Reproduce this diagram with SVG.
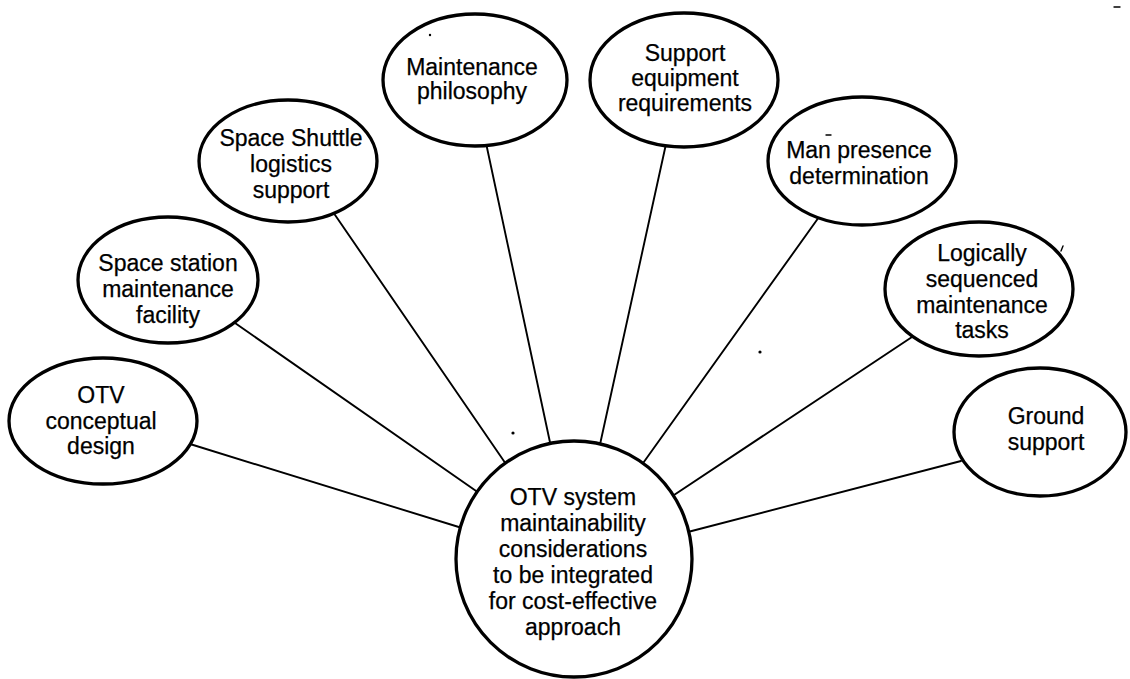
<svg xmlns="http://www.w3.org/2000/svg" width="1130" height="679" viewBox="0 0 1130 679">
  <style>
    .bubble { fill: #ffffff; stroke: #000000; stroke-width: 3.3; }
    .link { stroke: #000000; stroke-width: 1.9; fill: none; stroke-linecap: round; }
    .label { font-family: "Liberation Sans", Arial, Helvetica, sans-serif; font-size: 23px; fill: #000000; text-anchor: middle; stroke: #000000; stroke-width: 0.25; }
    .speck { fill: #000000; }
    .mark { stroke: #000000; stroke-width: 1.4; fill: none; stroke-linecap: round; }
  </style>
  <rect x="0" y="0" width="1130" height="679" fill="#ffffff"/>

  <!-- spokes from each topic to the central hub -->
  <g id="connectors">
    <line class="link" x1="190" y1="444" x2="462" y2="528"/>
    <line class="link" x1="235" y1="323" x2="479" y2="493"/>
    <line class="link" x1="333" y1="212" x2="508" y2="467"/>
    <line class="link" x1="486" y1="143" x2="551" y2="447"/>
    <line class="link" x1="666" y1="144" x2="599" y2="449"/>
    <line class="link" x1="819" y1="217" x2="641" y2="466"/>
    <line class="link" x1="915" y1="335" x2="668" y2="499"/>
    <line class="link" x1="961" y1="461" x2="684" y2="533"/>
  </g>

  <g id="otv-conceptual-design">
    <ellipse class="bubble" cx="103" cy="421" rx="94" ry="63"/>
    <text class="label" x="101" y="403">OTV</text>
    <text class="label" x="101" y="429">conceptual</text>
    <text class="label" x="101" y="454">design</text>
  </g>

  <g id="space-station-maintenance-facility">
    <ellipse class="bubble" cx="168" cy="280" rx="90" ry="63"/>
    <text class="label" x="168" y="271">Space station</text>
    <text class="label" x="168" y="297">maintenance</text>
    <text class="label" x="168" y="323">facility</text>
  </g>

  <g id="space-shuttle-logistics-support">
    <ellipse class="bubble" cx="288" cy="161" rx="89" ry="61"/>
    <text class="label" x="291" y="146">Space Shuttle</text>
    <text class="label" x="291" y="172">logistics</text>
    <text class="label" x="291" y="198">support</text>
  </g>

  <g id="maintenance-philosophy">
    <ellipse class="bubble" cx="475" cy="80" rx="92" ry="66"/>
    <text class="label" x="472" y="75">Maintenance</text>
    <text class="label" x="472" y="99">philosophy</text>
  </g>

  <g id="support-equipment-requirements">
    <ellipse class="bubble" cx="684" cy="80" rx="94" ry="67"/>
    <text class="label" x="685" y="61">Support</text>
    <text class="label" x="685" y="86">equipment</text>
    <text class="label" x="685" y="111">requirements</text>
  </g>

  <g id="man-presence-determination">
    <ellipse class="bubble" cx="862" cy="161" rx="94" ry="64"/>
    <text class="label" x="859" y="158">Man presence</text>
    <text class="label" x="859" y="184">determination</text>
  </g>

  <g id="logically-sequenced-maintenance-tasks">
    <ellipse class="bubble" cx="979" cy="289" rx="94" ry="67"/>
    <text class="label" x="982" y="261">Logically</text>
    <text class="label" x="982" y="287">sequenced</text>
    <text class="label" x="982" y="313">maintenance</text>
    <text class="label" x="982" y="338">tasks</text>
  </g>

  <g id="ground-support">
    <ellipse class="bubble" cx="1040" cy="432" rx="86" ry="64"/>
    <text class="label" x="1046" y="424">Ground</text>
    <text class="label" x="1046" y="450">support</text>
  </g>

  <g id="otv-system-maintainability">
    <circle class="bubble" cx="574" cy="559" r="118"/>
    <text class="label" x="573" y="505">OTV system</text>
    <text class="label" x="573" y="531">maintainability</text>
    <text class="label" x="573" y="557">considerations</text>
    <text class="label" x="573" y="583">to be integrated</text>
    <text class="label" x="573" y="609">for cost-effective</text>
    <text class="label" x="573" y="635">approach</text>
  </g>

  <!-- stray print marks -->
  <g id="specks">
    <circle class="speck" cx="513" cy="433" r="1.6"/>
    <circle class="speck" cx="760" cy="352" r="1.6"/>
    <circle class="speck" cx="430" cy="35" r="1.2"/>
    <line class="mark" x1="826" y1="135" x2="831" y2="135"/>
    <line class="mark" x1="1061" y1="251" x2="1063" y2="246"/>
    <line class="mark" x1="1114" y1="7" x2="1120" y2="7"/>
  </g>
</svg>
